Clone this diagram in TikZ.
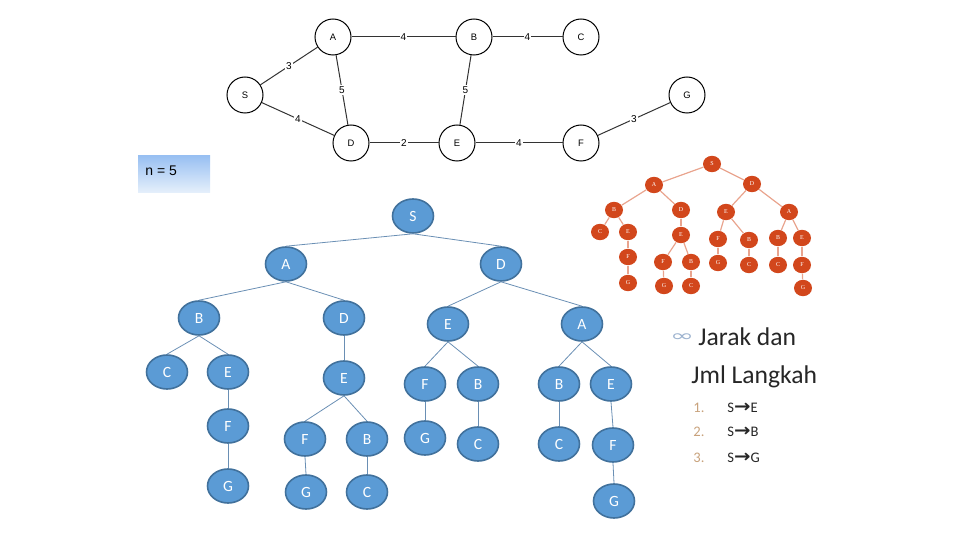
\documentclass[tikz,border=0pt]{standalone}
\usepackage{fontspec}
\setmainfont{Carlito}
\newfontfamily\arialfont{Liberation Sans}
\newfontfamily\seriffont{Liberation Serif}
\newfontfamily\dejavufont{DejaVu Sans}
\usepackage{xcolor}
\usepackage{graphicx}
\usepackage{tikz}
\usetikzlibrary{shapes.geometric}

\definecolor{bluefill}{HTML}{5B9BD5}
\definecolor{blueline}{HTML}{41719C}
\definecolor{blueedge}{HTML}{6A8FB4}
\definecolor{redfill}{HTML}{D2471C}
\definecolor{rededge}{HTML}{E9A48E}
\definecolor{numcol}{HTML}{C8A27C}
\definecolor{boxtop}{HTML}{99C0F2}
\definecolor{boxbot}{HTML}{E6F0FB}
\definecolor{txtcol}{HTML}{262626}
\definecolor{bulletcol}{HTML}{9DB3CF}

\newcommand{\toarrow}{{\dejavufont\bfseries\scalebox{1.35}[1.2]{→}}}

\begin{document}
\begin{tikzpicture}[
x=0.5pt,y=-0.5pt,
gnode/.style={draw,circle,minimum size=18pt,inner sep=0pt,line width=0.5pt,font=\arialfont\fontsize{4.7}{5}\selectfont},
gedge/.style={draw=black!80,line width=0.5pt},
wlabel/.style={fill=white,inner sep=0.6pt,font=\arialfont\fontsize{5}{6}\selectfont},
bnode/.style={ellipse,draw=blueline,fill=bluefill,line width=0.8pt,minimum width=20.5pt,minimum height=17pt,inner sep=0pt,text=white,font=\fontsize{7.8}{8}\selectfont},
bedge/.style={draw=blueedge,line width=0.4pt},
rnode/.style={ellipse,fill=redfill,minimum width=9pt,minimum height=8.2pt,inner sep=0pt,text=white,font=\seriffont\fontsize{3}{3}\selectfont},
redge/.style={draw=rededge,line width=0.6pt},
title/.style={anchor=base west,inner sep=0pt,text=txtcol,font=\fontsize{12.8}{14}\selectfont},
numtext/.style={anchor=base west,inner sep=0pt,text=numcol,font=\fontsize{7.3}{8}\selectfont},
itemtext/.style={anchor=base west,inner sep=0pt,text=txtcol,font=\fontsize{7.3}{8}\selectfont}
]
\useasboundingbox (0,0) rectangle (960,540);

% weighted graph
\node[gnode] (gA) at (333,37) {A};
\node[gnode] (gB) at (474,37) {B};
\node[gnode] (gC) at (581,37) {C};
\node[gnode] (gS) at (245,95) {S};
\node[gnode] (gG) at (687,95) {G};
\node[gnode] (gD) at (351,143) {D};
\node[gnode] (gE) at (457,143) {E};
\node[gnode] (gF) at (581,143) {F};

\draw[gedge] (gA)--(gB) node[wlabel,midway]{4};
\draw[gedge] (gB)--(gC) node[wlabel,midway]{4};
\draw[gedge] (gS)--(gA) node[wlabel,midway]{3};
\draw[gedge] (gA)--(gD) node[wlabel,midway]{5};
\draw[gedge] (gB)--(gE) node[wlabel,midway]{5};
\draw[gedge] (gS)--(gD) node[wlabel,midway]{4};
\draw[gedge] (gD)--(gE) node[wlabel,midway]{2};
\draw[gedge] (gE)--(gF) node[wlabel,midway]{4};
\draw[gedge] (gF)--(gG) node[wlabel,midway]{3};

% n box
\node[top color=boxtop,bottom color=boxbot,minimum width=36pt,minimum height=18.5pt,inner sep=0pt] (nbox) at (174,174.5) {};
\node[anchor=base west,inner sep=0pt,font=\arialfont\fontsize{7}{8}\selectfont] (ntext) at (145,176) {n = 5};

% blue search tree
\node[bnode] (bS) at (413,216) {S};
\node[bnode] (bA) at (286,264) {A};
\node[bnode] (bD) at (501,264) {D};
\node[bnode] (bAB) at (199,318) {B};
\node[bnode] (bAD) at (344,318) {D};
\node[bnode] (bDE) at (448,324) {E};
\node[bnode] (bDA) at (582,324) {A};
\node[bnode] (bABC) at (167,372) {C};
\node[bnode] (bABE) at (228,372) {E};
\node[bnode] (bADE) at (344,378) {E};
\node[bnode] (bDEF) at (425,384) {F};
\node[bnode] (bDEB) at (478,384) {B};
\node[bnode] (bDAB) at (559,384) {B};
\node[bnode] (bDAE) at (611,384) {E};
\node[bnode] (bABEF) at (228,426) {F};
\node[bnode] (bADEF) at (305,439) {F};
\node[bnode] (bADEB) at (367,439) {B};
\node[bnode] (bDEFG) at (425,438) {G};
\node[bnode] (bDEBC) at (478,444) {C};
\node[bnode] (bDABC) at (559,444) {C};
\node[bnode] (bDAEF) at (613,445) {F};
\node[bnode] (bABEFG) at (228,486) {G};
\node[bnode] (bADEFG) at (306,492) {G};
\node[bnode] (bADEBC) at (367,492) {C};
\node[bnode] (bDAEFG) at (614,501) {G};

\draw[bedge] (bS.south)--(bA.north);
\draw[bedge] (bS.south)--(bD.north);
\draw[bedge] (bA.south)--(bAB.north);
\draw[bedge] (bA.south)--(bAD.north);
\draw[bedge] (bD.south)--(bDE.north);
\draw[bedge] (bD.south)--(bDA.north);
\draw[bedge] (bAB.south)--(bABC.north);
\draw[bedge] (bAB.south)--(bABE.north);
\draw[bedge] (bAD.south)--(bADE.north);
\draw[bedge] (bDE.south)--(bDEF.north);
\draw[bedge] (bDE.south)--(bDEB.north);
\draw[bedge] (bDA.south)--(bDAB.north);
\draw[bedge] (bDA.south)--(bDAE.north);
\draw[bedge] (bABE.south)--(bABEF.north);
\draw[bedge] (bADE.south)--(bADEF.north);
\draw[bedge] (bADE.south)--(bADEB.north);
\draw[bedge] (bDEF.south)--(bDEFG.north);
\draw[bedge] (bDEB.south)--(bDEBC.north);
\draw[bedge] (bDAB.south)--(bDABC.north);
\draw[bedge] (bDAE.south)--(bDAEF.north);
\draw[bedge] (bABEF.south)--(bABEFG.north);
\draw[bedge] (bADEF.south)--(bADEFG.north);
\draw[bedge] (bADEB.south)--(bADEBC.north);
\draw[bedge] (bDAEF.south)--(bDAEFG.north);

% red search tree
\node[rnode] (rS) at (712,164) {S};
\node[rnode] (rA) at (654,185) {A};
\node[rnode] (rD) at (752,184) {D};
\node[rnode] (rAB) at (614,210) {B};
\node[rnode] (rAD) at (681,210) {D};
\node[rnode] (rDE) at (726,212) {E};
\node[rnode] (rDA) at (789,212) {A};
\node[rnode] (rABC) at (600,232) {C};
\node[rnode] (rABE) at (628,232) {E};
\node[rnode] (rADE) at (681,235) {E};
\node[rnode] (rDEF) at (718,239) {F};
\node[rnode] (rDEB) at (749,240) {B};
\node[rnode] (rDAB) at (778,238) {B};
\node[rnode] (rDAE) at (802,238) {E};
\node[rnode] (rABEF) at (628,257) {F};
\node[rnode] (rADEF) at (663,262) {F};
\node[rnode] (rADEB) at (691,262) {B};
\node[rnode] (rDEFG) at (718,263) {G};
\node[rnode] (rDEBC) at (749,265) {C};
\node[rnode] (rDABC) at (778,265) {C};
\node[rnode] (rDAEF) at (802,265) {F};
\node[rnode] (rABEFG) at (628,283) {G};
\node[rnode] (rADEFG) at (664,286) {G};
\node[rnode] (rADEBC) at (691,286) {C};
\node[rnode] (rDAEFG) at (803,288) {G};

\draw[redge] (rS)--(rA);
\draw[redge] (rS)--(rD);
\draw[redge] (rA)--(rAB);
\draw[redge] (rA)--(rAD);
\draw[redge] (rD)--(rDE);
\draw[redge] (rD)--(rDA);
\draw[redge] (rAB)--(rABC);
\draw[redge] (rAB)--(rABE);
\draw[redge] (rAD)--(rADE);
\draw[redge] (rDE)--(rDEF);
\draw[redge] (rDE)--(rDEB);
\draw[redge] (rDA)--(rDAB);
\draw[redge] (rDA)--(rDAE);
\draw[redge] (rABE)--(rABEF);
\draw[redge] (rADE)--(rADEF);
\draw[redge] (rADE)--(rADEB);
\draw[redge] (rDEF)--(rDEFG);
\draw[redge] (rDEB)--(rDEBC);
\draw[redge] (rDAB)--(rDABC);
\draw[redge] (rDAE)--(rDAEF);
\draw[redge] (rABEF)--(rABEFG);
\draw[redge] (rADEF)--(rADEFG);
\draw[redge] (rADEB)--(rADEBC);
\draw[redge] (rDAEF)--(rDAEFG);

% text on the right
\node[inner sep=0pt,text=bulletcol,font=\dejavufont\fontsize{8}{8}\selectfont] (bullet) at (682,338) {\scalebox{1.8}[1]{∞}};
\node[title] (title1) at (698,345) {Jarak dan};
\node[title] (title2) at (691,384) {Jml Langkah};
\node[numtext] (num1) at (693,412) {1.};
\node[numtext] (num2) at (693,437) {2.};
\node[numtext] (num3) at (693,462) {3.};
\node[itemtext] (item1) at (727,412) {S\toarrow E};
\node[itemtext] (item2) at (727,437) {S\toarrow B};
\node[itemtext] (item3) at (727,462) {S\toarrow G};
\end{tikzpicture}
\end{document}
